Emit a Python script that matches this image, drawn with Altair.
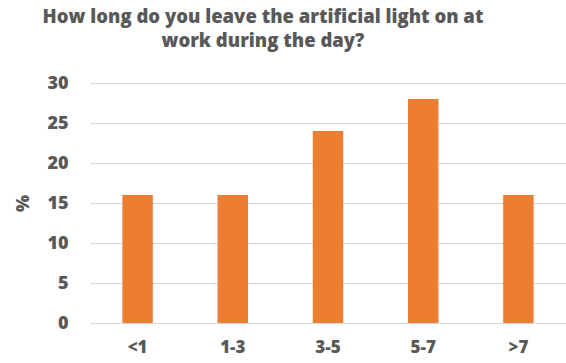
import altair as alt
import pandas as pd

categories = ["<1", "1-3", "3-5", "5-7", ">7"]
values = [16, 16, 24, 28, 16]

df = pd.DataFrame({"cat": categories, "val": values})

font = "Open Sans"
gray = "#595959"

chart = alt.Chart(df).mark_bar(color="#ED7D31").encode(
    x=alt.X("cat:N", sort=categories, title=None,
            scale=alt.Scale(paddingInner=0.68, paddingOuter=0.34),
            axis=alt.Axis(labelAngle=0, domain=False, ticks=False, labelPadding=16,
                          labelFont=font, labelFontSize=17, labelFontWeight=800,
                          labelColor=gray)),
    y=alt.Y("val:Q", title="%", scale=alt.Scale(domain=[0, 30]),
            axis=alt.Axis(values=[0, 5, 10, 15, 20, 25, 30], domain=False, ticks=False,
                          labelPadding=22, labelFont=font, labelFontSize=18,
                          labelFontWeight=800, labelColor=gray,
                          titleFont=font, titleFontSize=18, titleFontWeight=800,
                          titleColor=gray, titlePadding=14,
                          gridColor="#d9d9d9", gridWidth=1.2)),
).properties(
    width=476,
    height=240,
    title=alt.TitleParams(
        ["How long do you leave the artificial light on at", "work during the day?"],
        font=font, fontSize=18.5, fontWeight=800, color=gray, anchor="middle",
        dx=-65, offset=24, lineHeight=24,
    ),
    autosize=alt.AutoSizeParams(type="none"),
    padding={"left": 90, "top": 83, "right": 0, "bottom": 40},
).configure_view(stroke=None)

chart.save("out.html", embed_options={"renderer": "svg", "actions": False})
